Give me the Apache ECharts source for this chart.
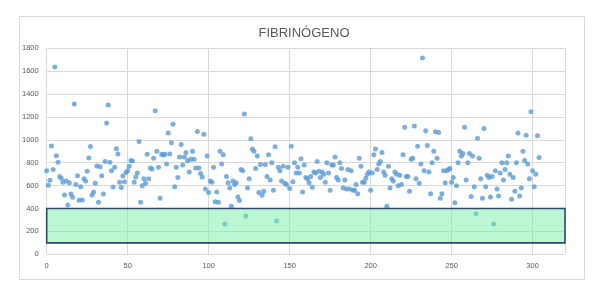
<!DOCTYPE html>
<html>
<head>
<meta charset="utf-8">
<script src="https://cdn.jsdelivr.net/npm/echarts@6/dist/echarts.min.js"></script>
<style>
html,body{margin:0;padding:0;background:#fff;}
#c{width:604px;height:282px;}
</style>
</head>
<body>
<div id="c"></div>
<script>
// Title
var chartTitle = 'FIBRINÓGENO';
// Axis ranges / ticks
var xTicks = [0, 50, 100, 150, 200, 250, 300];
var yTicks = [0, 200, 400, 600, 800, 1000, 1200, 1400, 1600, 1800];
// Fibrinogen values, one per sample (x = sample index)
var valuesA = [731,603,647,947,740,1637,862,804,679,664,629,518,641,431,626,527,498,1314,609,687,472,591,475,661,641,725,842,941,518,545,621,772,454,766,687,527,810,1148,1305,804,731,588,760,923,877,629,583,685,635,714];
var valuesB = [730,770,820,815,630,675,710,985,455,600,660,620,875,660,755,745,840,1255,900,760,490,875,868,875,790,1060,877,975,1136,590,760,670,850,960,780,850,890,818,720,830,900,830,755,1072,755,705,675,1050,570,860];
var valuesC = [540,640,630,760,460,545,455,900,790,870,265,680,625,580,420,640,610,625,500,470,740,730,1225,335,580,660,1010,920,900,750,860,540,785,515,550,785,680,870,650,800,560,940,290,760,730,640,770,620,610,760];
var valuesD = [575,945,635,800,710,760,710,835,545,780,670,660,625,680,585,720,710,810,725,670,720,700,630,800,710,560,780,780,850,670,650,800,750,580,650,570,740,570,730,560,560,610,530,840,770,630,630,665,700,720];
var valuesE = [560,710,870,920,740,790,810,890,720,690,420,770,580,660,640,720,700,600,690,610,870,1110,680,680,550,830,840,1120,660,945,620,790,1715,730,1080,950,720,530,800,900,1070,840,1065,490,530,730,625,730,740,750];
var valuesF = [630,670,450,600,800,900,860,880,1110,650,800,880,505,860,590,355,1015,840,660,490,1100,590,690,670,500,680,265,730,570,510,710,800,650,740,800,860,700,480,670,550,800,1060,510,580,900,820,1040,790,660,1245,730,590,700,1035,845];
var values = [].concat(valuesA, valuesB, valuesC, valuesD, valuesE, valuesF);
// Highlighted reference band (x from, x to, y low, y high)
var bandX = [-0.6, 322.2];
var bandY = [100, 400];

var points = values.map(function (v, i) { return [i, v]; });

var chart = echarts.init(document.getElementById('c'), null, {renderer: 'canvas'});
var labelStyle = {color: '#595959', fontSize: 7.5, fontFamily: 'Liberation Sans, Arial, sans-serif',
  formatter: function (v) { return String(v); }};
chart.setOption({
  animation: false,
  backgroundColor: '#ffffff',
  title: {
    text: chartTitle,
    left: 299, top: 22, textAlign: 'center',
    textStyle: {color: '#595959', fontSize: 13, fontWeight: 'normal', fontFamily: 'Liberation Sans, Arial, sans-serif'}
  },
  graphic: [{
    type: 'rect', left: 17, top: 14, shape: {width: 565, height: 263},
    style: {fill: 'none', stroke: '#d9d9d9', lineWidth: 1}, silent: true, z: -1
  }],
  grid: {left: 46.7, right: 39, top: 48.3, bottom: 27.7, containLabel: false},
  xAxis: {
    type: 'value', min: xTicks[0], max: 320, interval: 50,
    axisLine: {show: false}, axisTick: {show: false},
    axisLabel: Object.assign({margin: 8, showMaxLabel: false}, labelStyle),
    splitLine: {show: true, lineStyle: {color: '#d9d9d9', width: 1}}
  },
  yAxis: {
    type: 'value', min: yTicks[0], max: yTicks[yTicks.length - 1], interval: 200,
    axisLine: {show: false}, axisTick: {show: false},
    axisLabel: Object.assign({margin: 8}, labelStyle),
    splitLine: {show: true, lineStyle: {color: '#d9d9d9', width: 1}}
  },
  series: [{
    type: 'scatter',
    data: points,
    symbolSize: 5,
    itemStyle: {color: '#5b9bd5'},
    z: 2
  }, {
    type: 'line',
    data: [],
    z: 10,
    markArea: {
      silent: true,
      z: 10,
      itemStyle: {color: 'rgba(120,240,165,0.5)', borderColor: '#2e4a68', borderWidth: 1.6},
      data: [[{coord: [bandX[0], bandY[1]]}, {coord: [bandX[1], bandY[0]]}]]
    }
  }]
});
</script>
</body>
</html>
